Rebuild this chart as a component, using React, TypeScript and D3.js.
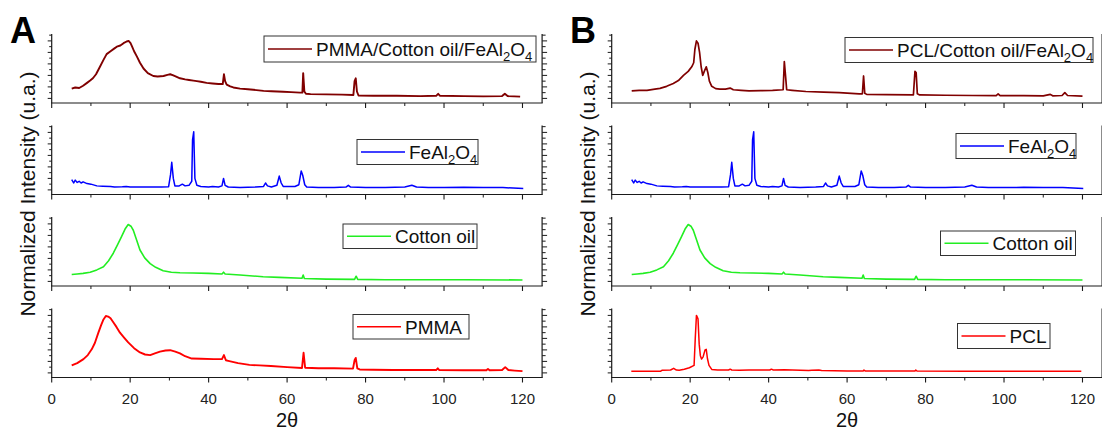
import React from "react";
import * as d3 from "d3";

type Pt = [number, number];

// ---- data (2θ, normalized intensity) ----
const compositePMMA: Pt[] = [
  [5.1,0.17],[6,0.19],[7,0.18],[8,0.22],[9,0.27],[9.8,0.31],[10.5,0.35],[11.3,0.42],[12.3,0.55],[13.2,0.67],[14,0.77],[15,0.82],[16,0.87],[16.6,0.9],[17.5,0.92],[18.3,0.96],[19.1,0.99],[19.6,1.0],[20.1,0.96],[20.5,0.9],[21,0.82],[21.7,0.73],[22.5,0.62],[23.4,0.52],[24.5,0.44],[25.9,0.39],[27,0.38],[28.5,0.39],[29.5,0.41],[30.2,0.42],[31,0.40],[32,0.37],[32.7,0.35],[34,0.33],[35,0.32],[36.1,0.31],[37,0.30],[38,0.29],[39.5,0.27],[41,0.26],[42.5,0.25],[43.6,0.25],[43.9,0.42],[44.2,0.30],[44.6,0.24],[45.5,0.21],[46.3,0.19],[48,0.17],[50,0.16],[51.4,0.15],[54,0.13],[56,0.125],[59,0.115],[61,0.11],[63.3,0.10],[63.9,0.10],[64.1,0.44],[64.4,0.12],[64.8,0.08],[66,0.075],[70,0.07],[74,0.065],[76.9,0.06],[77.2,0.30],[77.5,0.35],[77.8,0.12],[78.2,0.05],[82,0.045],[88,0.045],[94,0.04],[98,0.045],[98.5,0.08],[99,0.045],[105,0.04],[110,0.035],[114.8,0.04],[115.5,0.08],[116.2,0.04],[119.4,0.03]
];

const ferrite: Pt[] = [
  [5.1,0.18],[5.6,0.12],[6,0.17],[6.5,0.13],[7,0.15],[7.5,0.12],[8,0.14],[9,0.11],[10,0.10],[11.5,0.07],[13,0.065],[15,0.06],[16,0.05],[18,0.055],[19,0.06],[20,0.05],[22,0.05],[25,0.05],[28,0.05],[29.8,0.055],[30.3,0.27],[30.6,0.48],[31,0.2],[31.4,0.07],[32.5,0.07],[33.3,0.10],[34,0.07],[35,0.08],[35.7,0.15],[35.9,0.87],[36.2,1.01],[36.5,0.2],[37,0.08],[38,0.06],[40,0.05],[41,0.06],[42.5,0.05],[43.4,0.07],[43.8,0.20],[44.2,0.08],[45,0.05],[48,0.04],[52,0.05],[54,0.06],[54.5,0.12],[55,0.07],[56,0.05],[57.4,0.08],[58,0.24],[58.5,0.12],[59,0.06],[62,0.06],[63,0.09],[63.6,0.33],[64,0.25],[64.5,0.09],[65,0.05],[68,0.04],[72,0.04],[75,0.05],[75.6,0.08],[76.2,0.05],[80,0.04],[85,0.04],[90,0.05],[91.8,0.08],[93,0.05],[96,0.04],[100,0.04],[105,0.045],[110,0.04],[115,0.04],[120.2,0.025]
];

const cottonOil: Pt[] = [
  [5.1,0.12],[6.5,0.13],[8,0.14],[9.8,0.158],[11.5,0.2],[13.2,0.256],[14.5,0.36],[15.7,0.49],[16.8,0.64],[17.8,0.78],[18.7,0.91],[19.5,0.99],[20.2,0.96],[20.8,0.89],[21.6,0.73],[22.5,0.546],[23.7,0.41],[25.1,0.31],[26.5,0.245],[28.4,0.186],[30.5,0.16],[32.7,0.15],[36,0.145],[40,0.14],[43.4,0.13],[43.8,0.16],[44.2,0.13],[48,0.11],[53.9,0.082],[58,0.07],[63.8,0.055],[64.1,0.11],[64.4,0.05],[70,0.04],[77.2,0.035],[77.6,0.09],[78,0.035],[85,0.03],[95,0.03],[105,0.028],[120,0.025]
];

const pmma: Pt[] = [
  [5.1,0.13],[6.5,0.17],[8.1,0.24],[9.2,0.31],[10.2,0.41],[11,0.52],[11.9,0.70],[12.6,0.83],[13.2,0.93],[13.8,0.99],[14.4,0.98],[15,0.95],[15.7,0.88],[16.5,0.80],[17.4,0.70],[18.5,0.61],[19.5,0.53],[21,0.43],[22.5,0.355],[23.8,0.32],[25.1,0.31],[26.3,0.34],[27.6,0.37],[29,0.39],[30.2,0.395],[31.5,0.37],[32.7,0.34],[34,0.29],[35.7,0.25],[38,0.245],[41.3,0.24],[43.4,0.24],[43.9,0.31],[44.4,0.22],[45,0.21],[47.5,0.17],[50.4,0.14],[53,0.13],[55.9,0.12],[60,0.10],[63.8,0.085],[64.2,0.35],[64.6,0.09],[68,0.08],[72,0.08],[76.8,0.075],[77.2,0.22],[77.5,0.26],[77.9,0.08],[78.5,0.06],[82,0.055],[86.9,0.05],[95,0.05],[98,0.05],[98.4,0.08],[98.8,0.05],[105,0.045],[110.8,0.045],[111.2,0.07],[111.6,0.045],[114.8,0.05],[115.6,0.10],[116.4,0.05],[118,0.04],[120,0.03]
];

const compositePCL: Pt[] = [
  [5.1,0.13],[7,0.14],[9,0.14],[11,0.16],[12.3,0.175],[14,0.21],[15.7,0.26],[17,0.31],[18.3,0.40],[19.5,0.47],[20.4,0.55],[20.9,0.62],[21.2,0.85],[21.6,1.0],[22,0.96],[22.4,0.80],[22.8,0.55],[23.2,0.40],[23.6,0.47],[24.1,0.55],[24.5,0.45],[24.9,0.30],[25.5,0.21],[26.5,0.17],[27.6,0.16],[29,0.16],[30.2,0.18],[31,0.15],[33,0.14],[35,0.13],[38,0.135],[41,0.14],[43.7,0.15],[44.0,0.64],[44.3,0.40],[44.6,0.15],[46,0.14],[49.5,0.12],[54,0.11],[58,0.10],[63.1,0.08],[63.9,0.08],[64.2,0.39],[64.5,0.09],[65,0.07],[70,0.065],[76.9,0.06],[77.3,0.47],[77.6,0.45],[77.9,0.08],[78.5,0.06],[85,0.055],[92,0.05],[98,0.05],[98.5,0.08],[99,0.05],[105,0.05],[110,0.045],[111.8,0.07],[112.4,0.045],[114.8,0.05],[115.5,0.10],[116.2,0.05],[120,0.04]
];

const pcl: Pt[] = [
  [5,0.03],[8,0.03],[12.5,0.03],[12.8,0.045],[15,0.05],[15.8,0.08],[16.5,0.05],[17.2,0.045],[18.5,0.065],[19.8,0.09],[21,0.13],[21.3,0.6],[21.6,1.0],[22,0.94],[22.3,0.5],[22.6,0.30],[22.9,0.24],[23.3,0.28],[23.8,0.40],[24.1,0.41],[24.4,0.25],[24.8,0.13],[25.5,0.06],[27,0.05],[29.8,0.05],[30.2,0.065],[30.6,0.05],[32.6,0.045],[35,0.05],[40.3,0.05],[40.7,0.065],[41.2,0.05],[44,0.055],[46,0.05],[50.2,0.04],[51,0.045],[52.8,0.05],[53.5,0.04],[60,0.035],[64.1,0.035],[64.3,0.05],[64.6,0.035],[77.3,0.035],[77.5,0.05],[77.8,0.035],[90,0.03],[105,0.03],[119.7,0.03]
];

const xTicks = [0, 20, 40, 60, 80, 100, 120];
const xMinorTicks = [10, 30, 50, 70, 90, 110];
const yTicks = [0, 0.1, 0.2, 0.3, 0.4, 0.5, 0.6, 0.7, 0.8, 0.9, 1.0, 1.1];

const COLORS = { composite: "#800000", ferrite: "#0000ff", oil: "#22ee22", polymer: "#ff0000" };

type Layer = { data: Pt[]; color: string; label: string; width: number; leg: [number, number, number, number] };

const panelA: Layer[] = [
  { data: compositePMMA, color: COLORS.composite, label: "PMMA/Cotton oil/FeAl|2|O|4", width: 1.9, leg: [264, 36, 272, 26] },
  { data: ferrite, color: COLORS.ferrite, label: "FeAl|2|O|4", width: 1.5, leg: [357, 139.5, 121, 25] },
  { data: cottonOil, color: COLORS.oil, label: "Cotton oil", width: 1.6, leg: [343, 224, 134, 24.5] },
  { data: pmma, color: COLORS.polymer, label: "PMMA", width: 1.9, leg: [353, 314.5, 116, 24.5] },
];
const panelB: Layer[] = [
  { data: compositePCL, color: COLORS.composite, label: "PCL/Cotton oil/FeAl|2|O|4", width: 1.7, leg: [285, 37.5, 248, 25] },
  { data: ferrite, color: COLORS.ferrite, label: "FeAl|2|O|4", width: 1.5, leg: [396, 133.5, 120, 25] },
  { data: cottonOil, color: COLORS.oil, label: "Cotton oil", width: 1.6, leg: [380.5, 231, 135, 24.5] },
  { data: pcl, color: COLORS.polymer, label: "PCL", width: 1.5, leg: [397.5, 323.5, 92.5, 25] },
];

const FONT = "'Liberation Sans', Arial, Helvetica, sans-serif";
const AX = "#1a1a1a";

const x = d3.scaleLinear().domain([0, 125]).range([51.7, 542.1]);
const TOP0 = 34;
const STEP = 91.5;
const H = 69;

function LegendText({ label }: { label: string }) {
  const parts = label.split("|");
  return (
    <>
      {parts.map((p, i) => {
        const sub = i % 2 === 1;
        const prevSub = i > 0 && (i - 1) % 2 === 1;
        return (
          <tspan key={i} fontSize={sub ? 13 : 19} dy={sub ? 5 : prevSub ? -5 : 0}>
            {p}
          </tspan>
        );
      })}
    </>
  );
}

function Panel({ layers, dx, letter }: { layers: Layer[]; dx: number; letter: string }) {
  return (
    <g transform={`translate(${dx},0)`}>
      <text x={10} y={43} fontFamily={FONT} fontWeight="bold" fontSize={36} fill="#000">{letter}</text>
      <text transform="translate(35,194) rotate(-90)" textAnchor="middle" fontFamily={FONT} fontSize={21} fill="#111">
        Normalized Intensity (u.a.)
      </text>
      {layers.map((L, i) => {
        const top = TOP0 + i * STEP;
        const bottom = top + H;
        const y = d3.scaleLinear().domain([-0.08, 1.12]).range([bottom, top]);
        const line = d3.line<Pt>().x((d) => x(d[0])).y((d) => y(d[1]));
        const xl = x(0);
        const xr = x(125);
        const [lx, ly, lw, lh] = L.leg;
        const mid = ly + lh / 2;
        return (
          <g key={i}>
            <path d={line(L.data) || ""} fill="none" stroke={L.color} strokeWidth={L.width} strokeLinejoin="round" />
            <line x1={xl} x2={xl} y1={top} y2={bottom} stroke={AX} strokeWidth={1.2} />
            <line x1={xr} x2={xr} y1={top} y2={bottom} stroke={AX} strokeWidth={1.2} />
            <line x1={xl - 0.6} x2={xr + 0.6} y1={bottom} y2={bottom} stroke={AX} strokeWidth={1.2} />
            {yTicks.map((t, k) => {
              const len = k % 2 === 0 ? 4 : 2.5;
              return (
                <g key={`y${k}`}>
                  <line x1={xl - len} x2={xl} y1={y(t)} y2={y(t)} stroke={AX} strokeWidth={1} />
                  <line x1={xr} x2={xr + len + 1} y1={y(t)} y2={y(t)} stroke={AX} strokeWidth={1} />
                </g>
              );
            })}
            {xTicks.map((t) => (
              <line key={`xt${t}`} x1={x(t)} x2={x(t)} y1={bottom} y2={bottom + 5} stroke={AX} strokeWidth={1.1} />
            ))}
            {xMinorTicks.map((t) => (
              <line key={`xm${t}`} x1={x(t)} x2={x(t)} y1={bottom} y2={bottom + 3} stroke={AX} strokeWidth={1} />
            ))}
            {i === layers.length - 1 &&
              xTicks.map((t) => (
                <text key={`xl${t}`} x={x(t)} y={404} textAnchor="middle" fontFamily={FONT} fontSize={15} fill="#222">
                  {t}
                </text>
              ))}
            <rect x={lx} y={ly} width={lw} height={lh} fill="#fff" stroke="#333" strokeWidth={1} />
            <line x1={lx + 4} x2={lx + 48} y1={mid} y2={mid} stroke={L.color} strokeWidth={1.6} />
            <text x={lx + 52} y={mid + 6.8} fontFamily={FONT} fontSize={19} fill="#111">
              <LegendText label={L.label} />
            </text>
          </g>
        );
      })}
      <text x={x(60)} y={427} textAnchor="middle" fontFamily={FONT} fontSize={20} fill="#111">2θ</text>
    </g>
  );
}

export default function App() {
  return (
    <svg width={1102} height={432} style={{ position: "absolute", left: 0, top: 0, background: "#fff" }}>
      <rect width={1102} height={432} fill="#fff" />
      <Panel layers={panelA} dx={0} letter="A" />
      <Panel layers={panelB} dx={560} letter="B" />
    </svg>
  );
}
